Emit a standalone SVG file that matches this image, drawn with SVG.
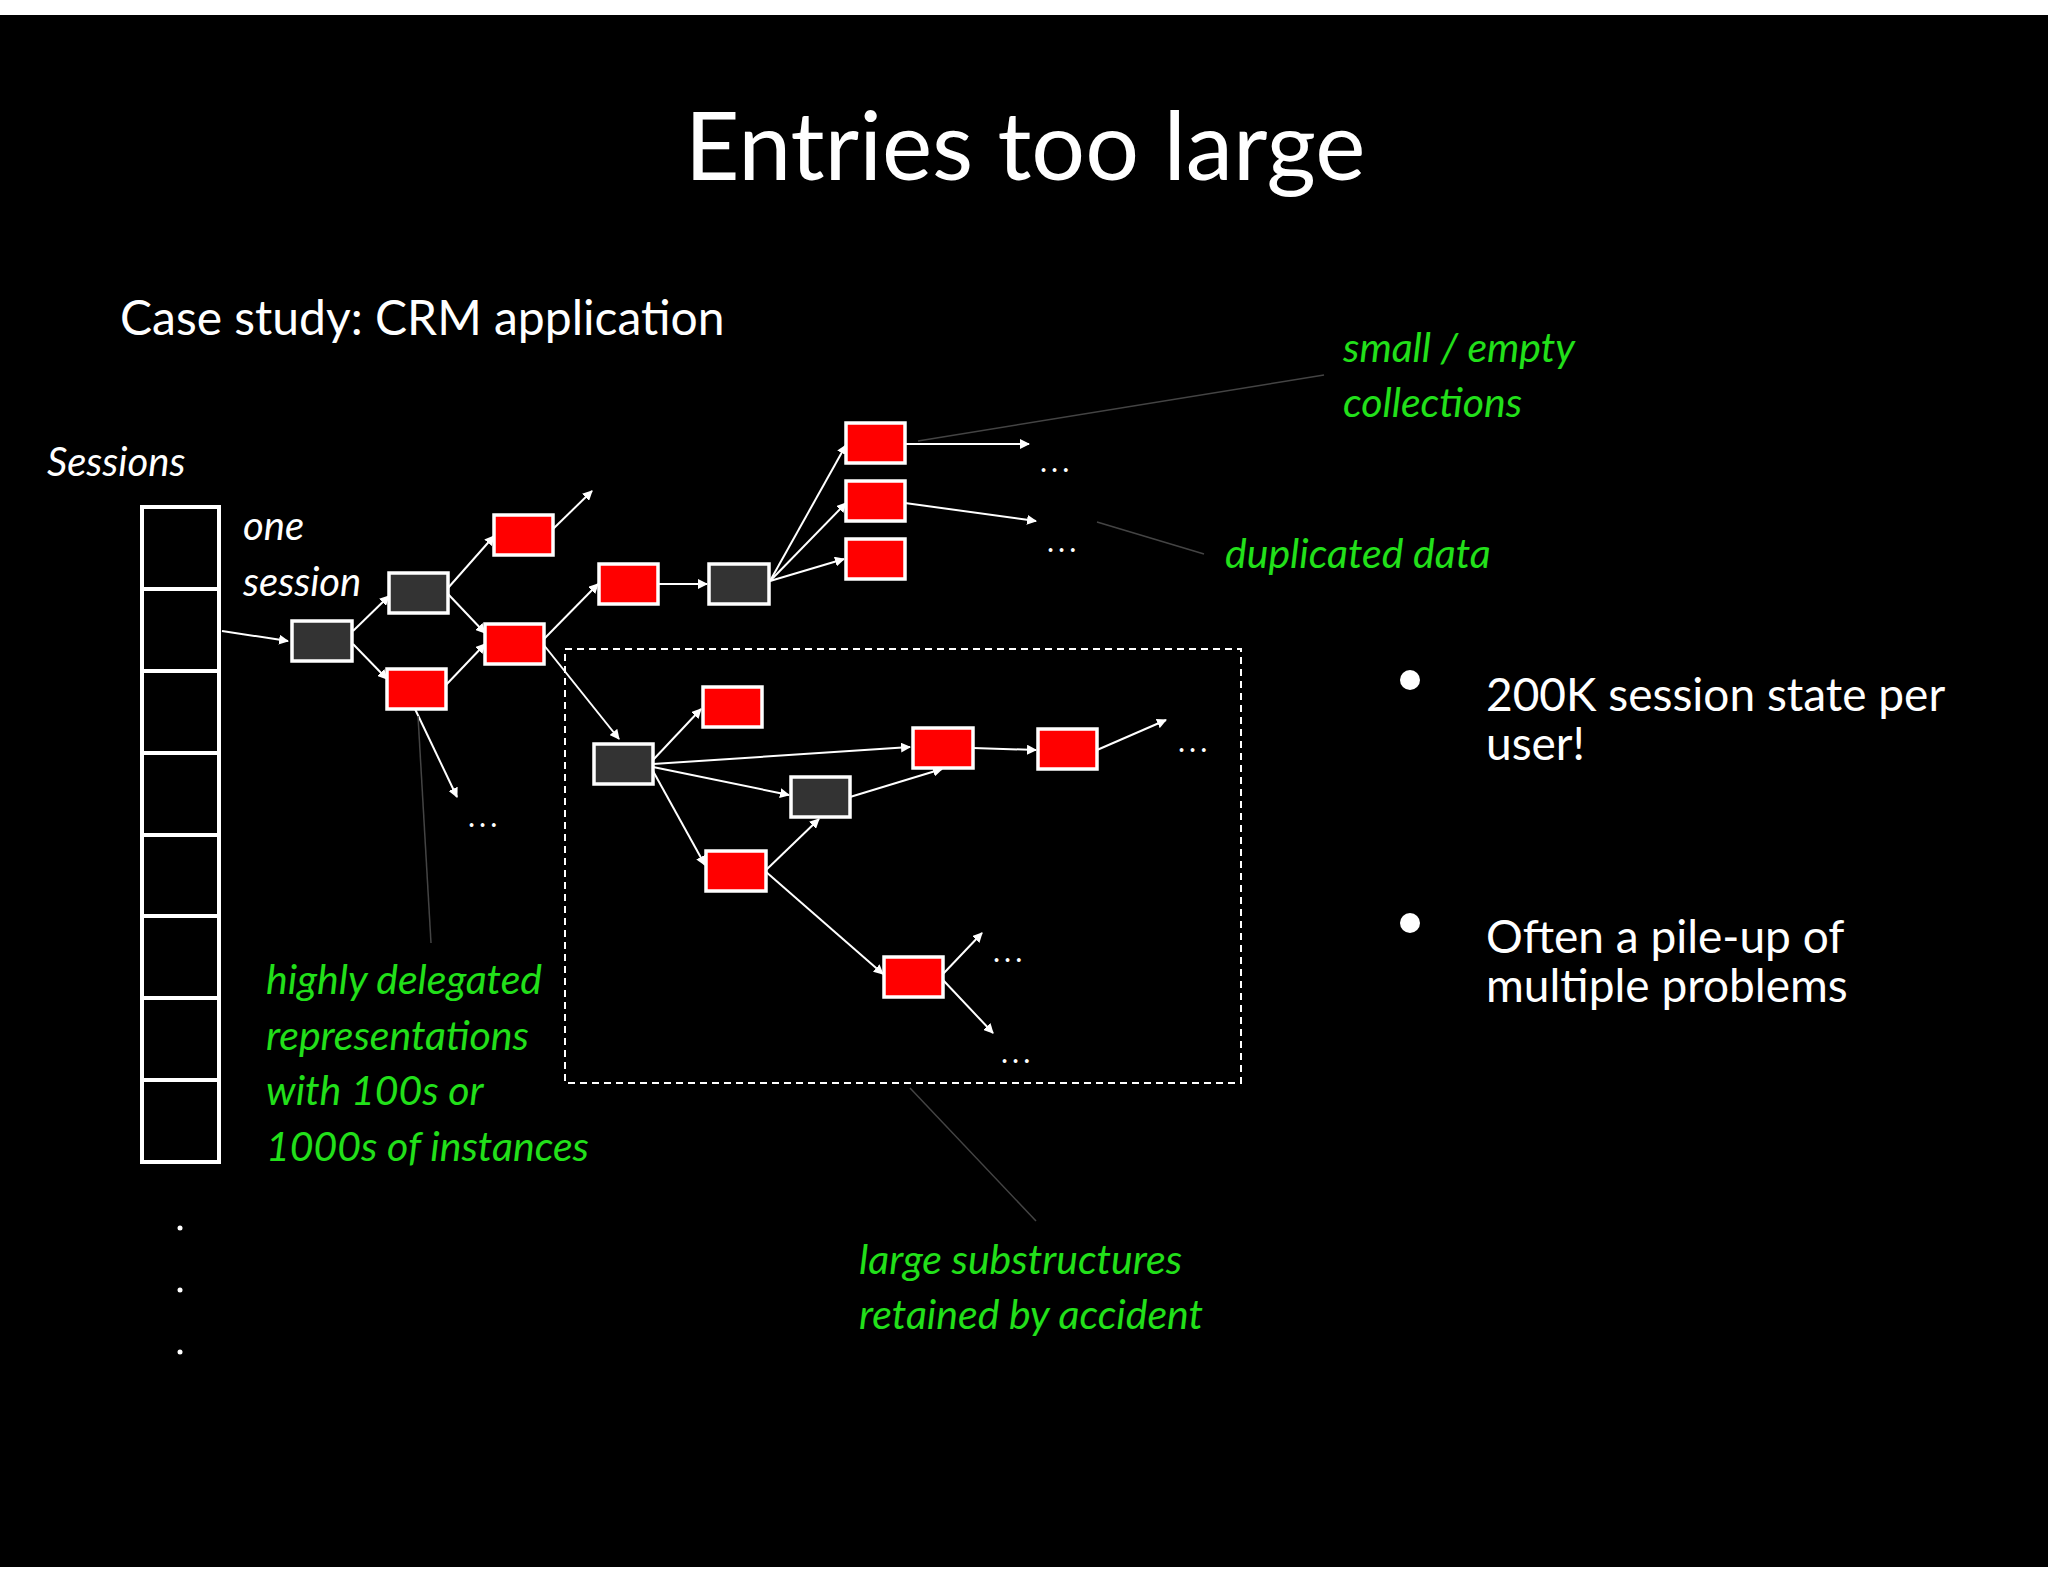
<svg xmlns="http://www.w3.org/2000/svg" width="2048" height="1582" viewBox="0 0 2048 1582">
<defs>
<marker id="ah" markerWidth="10" markerHeight="10" refX="9" refY="5" orient="auto" markerUnits="userSpaceOnUse" viewBox="0 0 10 10"><path d="M0,0 L10,5 L0,10 z" fill="#fff"/></marker>
<style>
.w{font-family:Lato,"Open Sans",sans-serif;fill:#fff}
.g{font-family:Lato,"Open Sans",sans-serif;font-style:italic;fill:#22e01a;font-size:41px}
.r{fill:#f00;stroke:#fff;stroke-width:3.5}
.d{fill:#333;stroke:#fff;stroke-width:3.5}
.e{stroke:#fff;stroke-width:2;fill:none;marker-end:url(#ah)}
.l{stroke:#444;stroke-width:1.5}
.dots{font-family:Lato,sans-serif;fill:#fff;font-size:30px;letter-spacing:4px}
</style>
</defs>
<rect width="2048" height="1582" fill="#fff"/>
<rect x="0" y="15" width="2048" height="1552" fill="#000"/>
<text class="w" x="1025" y="180" font-size="95" text-anchor="middle">Entries too large</text>
<text class="w" x="120" y="335" font-size="48">Case study: CRM application</text>
<text class="w" x="47" y="476" font-size="40" font-style="italic">Sessions</text>
<text class="w" x="243" y="540" font-size="40" font-style="italic">one</text>
<text class="w" x="243" y="596" font-size="40" font-style="italic">session</text>
<g id="sessions" fill="none" stroke="#fff" stroke-width="4">
<rect x="142" y="507" width="77" height="655"/>
<path d="M142,589H219M142,671H219M142,753H219M142,835H219M142,916H219M142,998H219M142,1080H219"/>
</g>
<g fill="#fff"><circle cx="180" cy="1228" r="2.5"/><circle cx="180" cy="1290" r="2.5"/><circle cx="180" cy="1352" r="2.5"/></g>
<g id="connectors">
<line class="e" x1="222" y1="631" x2="288" y2="641"/>
<line class="e" x1="353" y1="631" x2="389" y2="596"/>
<line class="e" x1="353" y1="644" x2="387" y2="679"/>
<line class="e" x1="448" y1="588" x2="494" y2="536"/>
<line class="e" x1="448" y1="594" x2="485" y2="633"/>
<line class="e" x1="445" y1="686" x2="485" y2="644"/>
<line class="e" x1="553" y1="529" x2="592" y2="491"/>
<line class="e" x1="415" y1="709" x2="457" y2="797"/>
<line class="e" x1="543" y1="640" x2="598" y2="584"/>
<line class="e" x1="543" y1="644" x2="619" y2="739"/>
<line class="e" x1="658" y1="584" x2="707" y2="584"/>
<line class="e" x1="770" y1="581" x2="846" y2="445"/>
<line class="e" x1="770" y1="581" x2="846" y2="503"/>
<line class="e" x1="770" y1="581" x2="844" y2="559"/>
<line class="e" x1="905" y1="444" x2="1029" y2="444"/>
<line class="e" x1="905" y1="503" x2="1036" y2="521"/>
<line class="e" x1="653" y1="760" x2="701" y2="709"/>
<line class="e" x1="653" y1="764" x2="910" y2="747"/>
<line class="e" x1="653" y1="767" x2="789" y2="795"/>
<line class="e" x1="653" y1="771" x2="705" y2="865"/>
<line class="e" x1="850" y1="797" x2="942" y2="769"/>
<line class="e" x1="765" y1="871" x2="819" y2="819"/>
<line class="e" x1="765" y1="871" x2="883" y2="974"/>
<line class="e" x1="973" y1="748" x2="1036" y2="750"/>
<line class="e" x1="1097" y1="750" x2="1166" y2="720"/>
<line class="e" x1="943" y1="974" x2="982" y2="933"/>
<line class="e" x1="943" y1="980" x2="993" y2="1033"/>
<rect x="565" y="649" width="676" height="434" fill="none" stroke="#fff" stroke-width="2" stroke-dasharray="7,5"/>
<line class="l" x1="918" y1="441" x2="1324" y2="375"/>
<line class="l" x1="1097" y1="522" x2="1204" y2="554"/>
<line class="l" x1="418" y1="716" x2="431" y2="943"/>
<line class="l" x1="910" y1="1088" x2="1036" y2="1221"/>
</g>
<g id="n1"><rect class="d" x="292" y="621" width="60" height="40"/></g>
<g id="n2"><rect class="d" x="389" y="573" width="59" height="40"/></g>
<g id="n3"><rect class="r" x="387" y="669" width="59" height="40"/></g>
<g id="n4"><rect class="r" x="494" y="515" width="59" height="40"/></g>
<g id="n5"><rect class="r" x="485" y="624" width="59" height="40"/></g>
<g id="n6"><rect class="r" x="599" y="564" width="59" height="40"/></g>
<g id="n7"><rect class="d" x="709" y="564" width="60" height="40"/></g>
<g id="n8"><rect class="r" x="846" y="423" width="59" height="40"/></g>
<g id="n9"><rect class="r" x="846" y="481" width="59" height="40"/></g>
<g id="n10"><rect class="r" x="846" y="539" width="59" height="40"/></g>
<g id="n11"><rect class="d" x="594" y="744" width="59" height="40"/></g>
<g id="n12"><rect class="r" x="703" y="687" width="59" height="40"/></g>
<g id="n13"><rect class="r" x="913" y="728" width="60" height="40"/></g>
<g id="n14"><rect class="r" x="1038" y="729" width="59" height="40"/></g>
<g id="n15"><rect class="d" x="791" y="777" width="59" height="40"/></g>
<g id="n16"><rect class="r" x="706" y="851" width="60" height="40"/></g>
<g id="n17"><rect class="r" x="884" y="957" width="59" height="40"/></g>
<g class="dots">
<text x="1040" y="472">...</text>
<text x="1047" y="552">...</text>
<text x="468" y="827">...</text>
<text x="1178" y="752">...</text>
<text x="993" y="962">...</text>
<text x="1001" y="1063">...</text>
</g>
<text class="g" x="1343" y="362">small / empty</text>
<text class="g" x="1343" y="417">collections</text>
<text class="g" x="1225" y="568">duplicated data</text>
<text class="g" x="266" y="994">highly delegated</text>
<text class="g" x="266" y="1050">representations</text>
<text class="g" x="266" y="1105">with 100s or</text>
<text class="g" x="266" y="1161">1000s of instances</text>
<text class="g" x="859" y="1274">large substructures</text>
<text class="g" x="859" y="1329">retained by accident</text>
<circle cx="1410" cy="680" r="10" fill="#fff"/>
<circle cx="1410" cy="923" r="10" fill="#fff"/>
<text class="w" x="1486" y="711" font-size="46">200K session state per</text>
<text class="w" x="1486" y="760" font-size="46">user!</text>
<text class="w" x="1486" y="953" font-size="46">Often a pile-up of</text>
<text class="w" x="1486" y="1002" font-size="46">multiple problems</text>
</svg>
